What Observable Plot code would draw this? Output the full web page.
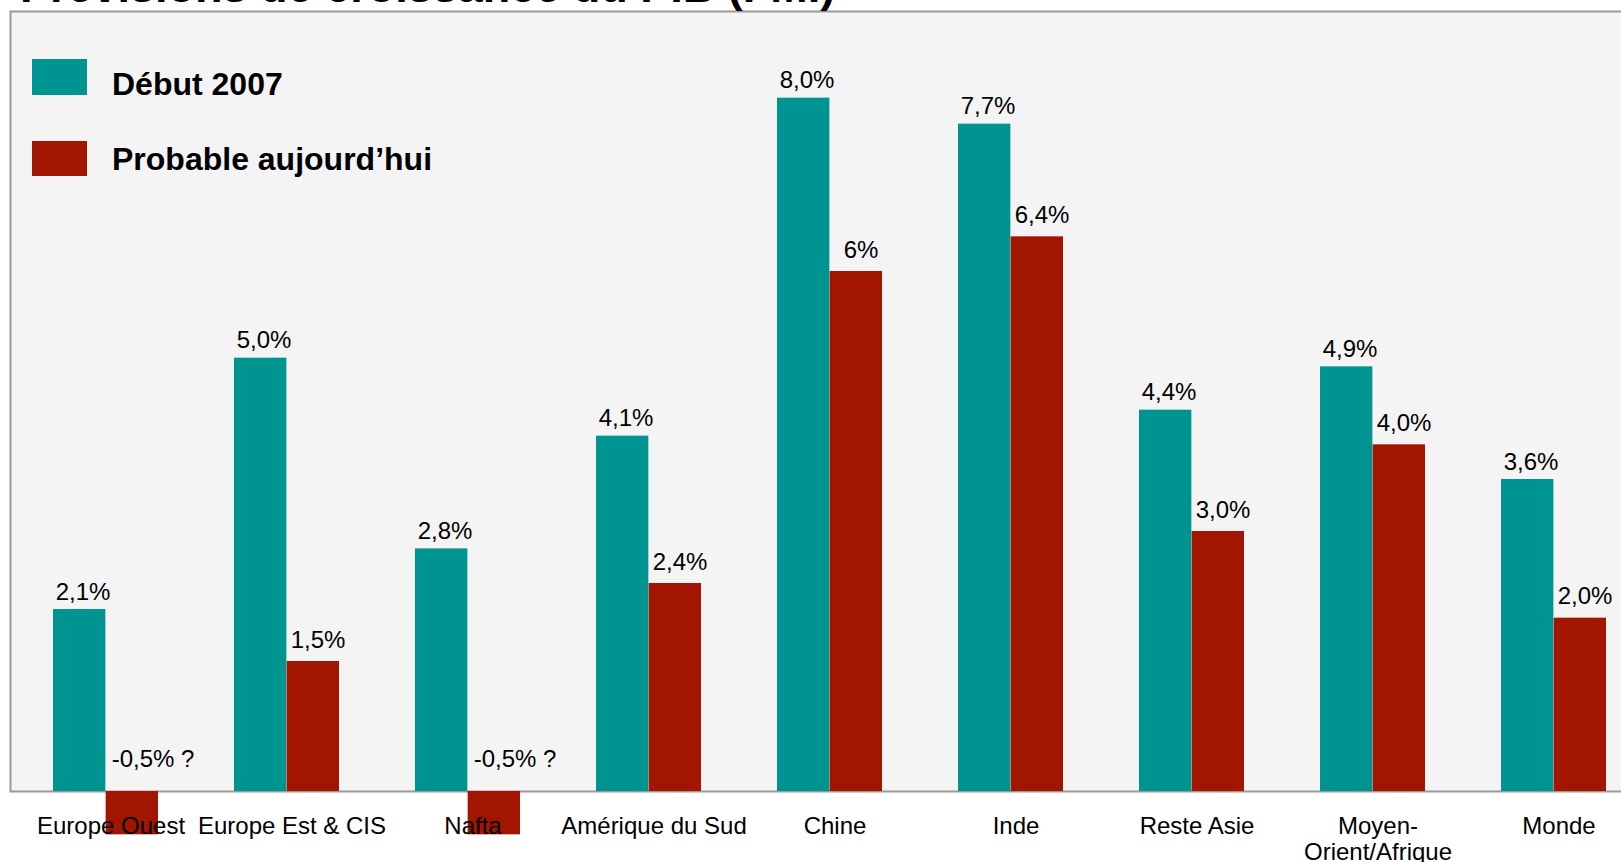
<!DOCTYPE html>
<html>
<head>
<meta charset="utf-8">
<script src="https://cdn.jsdelivr.net/npm/d3@7"></script>
<script src="https://cdn.jsdelivr.net/npm/@observablehq/plot@0.6"></script>
<style>
  html, body { margin: 0; padding: 0; background: #fff; overflow: hidden; }
  #wrap { position: relative; width: 1621px; height: 862px; font-family: "Liberation Sans", Arial, sans-serif; }
  #title { position: absolute; left: 20px; top: -36px; font-size: 45px; line-height: 45px; font-weight: bold; color: #000; white-space: nowrap; z-index: 2; }
  .lg-sw { position: absolute; left: 32px; width: 55px; }
  .lg-tx { position: absolute; left: 112px; font-size: 32px; line-height: 32px; font-weight: bold; color: #000; white-space: nowrap; }
</style>
</head>
<body>
<div id="wrap">
  <div id="title"></div>
  <div id="chart"></div>
  <div class="lg-sw" id="sw0" style="top:59px;height:36px;"></div>
  <div class="lg-tx" id="tx0" style="top:68px;"></div>
  <div class="lg-sw" id="sw1" style="top:141px;height:35px;"></div>
  <div class="lg-tx" id="tx1" style="top:143px;"></div>
</div>
<script>
const title = "Prévisions de croissance du PIB (FMI)";
const categories = ["Europe Ouest", "Europe Est & CIS", "Nafta", "Amérique du Sud", "Chine", "Inde", "Reste Asie", "Moyen-\nOrient/Afrique", "Monde"];
const seriesNames = ["Début 2007", "Probable aujourd’hui"];
const seriesColors = ["#009491", "#a21500"];
const debut2007 = [2.1, 5.0, 2.8, 4.1, 8.0, 7.7, 4.4, 4.9, 3.6];
const probable = [-0.5, 1.5, -0.5, 2.4, 6.0, 6.4, 3.0, 4.0, 2.0];
const debutLabels = ["2,1%", "5,0%", "2,8%", "4,1%", "8,0%", "7,7%", "4,4%", "4,9%", "3,6%"];
const probableLabels = ["-0,5% ?", "1,5%", "-0,5% ?", "2,4%", "6%", "6,4%", "3,0%", "4,0%", "2,0%"];

const dDebut = categories.map((c, i) => ({cat: c, v: debut2007[i], label: debutLabels[i]}));
const dProb = categories.map((c, i) => ({cat: c, v: probable[i], label: probableLabels[i]}));

document.getElementById("title").textContent = title;
seriesNames.forEach((s, i) => {
  document.getElementById("sw" + i).style.background = seriesColors[i];
  document.getElementById("tx" + i).textContent = s;
});

const half = 52.65;
const chart = Plot.plot({
  width: 1621,
  height: 862,
  marginLeft: 10,
  marginRight: -28,
  marginTop: 11,
  marginBottom: 71,
  style: {fontFamily: "'Liberation Sans', Arial, sans-serif", fontSize: "24px", color: "#000", background: "#fff"},
  x: {domain: categories, type: "band", paddingInner: 0.42, paddingOuter: 0.224},
  y: {domain: [0, 9], axis: null},
  marks: [
    Plot.frame({fill: "#f4f4f4", stroke: "#9a9a9a", strokeWidth: 2}),
    Plot.barY(dDebut, {x: "cat", y: "v", fill: seriesColors[0], insetLeft: 0, insetRight: half}),
    Plot.barY(dProb, {x: "cat", y: "v", fill: seriesColors[1], insetLeft: half, insetRight: 0}),
    Plot.text(dDebut, {x: "cat", y: "v", text: "label", dx: -23, dy: -10, lineAnchor: "bottom", fontSize: 24, fill: "#000"}),
    Plot.text(dProb.filter(d => d.v >= 0), {x: "cat", y: "v", text: "label", dx: 31, dy: -14, lineAnchor: "bottom", fontSize: 24, fill: "#000"}),
    Plot.text(dProb.filter(d => d.v < 0), {x: "cat", y: () => 0, text: "label", dx: 47, dy: -25, lineAnchor: "bottom", fontSize: 24, fill: "#000"}),
    Plot.axisX({tickSize: 0, tickPadding: 25, fontSize: 24, lineHeight: 1.05, dx: 5, fill: "#000", label: null})
  ]
});
document.getElementById("chart").appendChild(chart);
</script>
</body>
</html>
